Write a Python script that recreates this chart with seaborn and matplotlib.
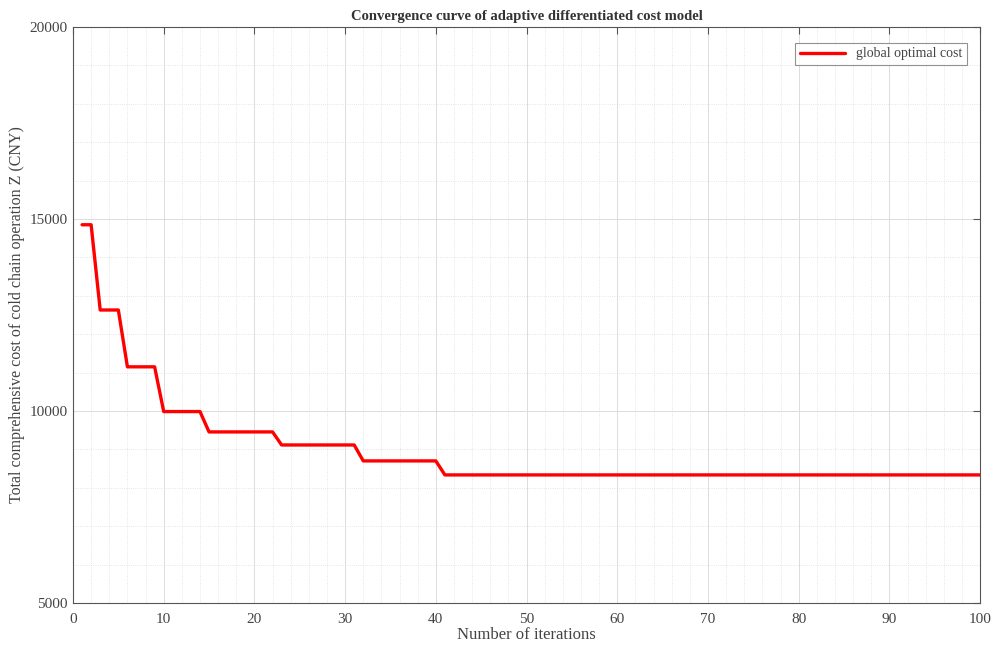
import numpy as np
import pandas as pd
import matplotlib.pyplot as plt
import seaborn as sns
from matplotlib.ticker import MultipleLocator

# best cost levels and how many iterations each one holds
levels = [14850, 12630, 11150, 9985, 9455, 9115, 8700, 8335]
run_lengths = [2, 3, 4, 5, 8, 9, 9, 60]

iterations = np.arange(1, 101)
best_cost = np.repeat(levels, run_lengths)
df = pd.DataFrame({"iteration": iterations, "cost": best_cost})

sns.set_style("white")
plt.rcParams["font.family"] = ["Liberation Serif", "DejaVu Serif"]

fig = plt.figure(figsize=(9.93, 6.46), dpi=100)
ax = fig.add_axes([0.0735, 0.0666, 0.9135, 0.8916])

sns.lineplot(data=df, x="iteration", y="cost", color="#ff0000", linewidth=2.4,
             label="global optimal cost", ax=ax)

ax.set_xlim(0, 100)
ax.set_ylim(5000, 20000)
ax.xaxis.set_major_locator(MultipleLocator(10))
ax.xaxis.set_minor_locator(MultipleLocator(2))
ax.yaxis.set_major_locator(MultipleLocator(5000))
ax.yaxis.set_minor_locator(MultipleLocator(1000))

ax.grid(which="major", color="#dcdcdc", linewidth=0.7, linestyle="-")
ax.grid(which="minor", color="#dedede", linewidth=0.6, linestyle=":")
ax.set_axisbelow(True)

for s in ax.spines.values():
    s.set_color("#555555")
    s.set_linewidth(0.8)
ax.tick_params(which="both", direction="in", top=True, right=True, colors="#555555",
               labelcolor="#444444", labelsize=11)
ax.tick_params(which="major", length=5)
ax.tick_params(which="minor", length=0)
ax.tick_params(axis="x", pad=7)
ax.tick_params(axis="y", pad=4)

ax.set_title("Convergence curve of adaptive differentiated cost model",
             fontsize=10.5, fontweight="bold", color="#333333", pad=5)
ax.set_xlabel("Number of iterations", fontsize=12, color="#444444", labelpad=1)
ax.set_ylabel("Total comprehensive cost of cold chain operation Z (CNY)",
              fontsize=11.5, color="#444444", labelpad=3)

leg = ax.legend(loc="upper right", fontsize=10, frameon=True, fancybox=False,
                edgecolor="#777777", handlelength=3.2, borderpad=0.35,
                bbox_to_anchor=(0.993, 0.985))
leg.get_frame().set_linewidth(0.8)
for t in leg.get_texts():
    t.set_color("#444444")

fig.savefig("out.png", dpi=100, facecolor="white")
